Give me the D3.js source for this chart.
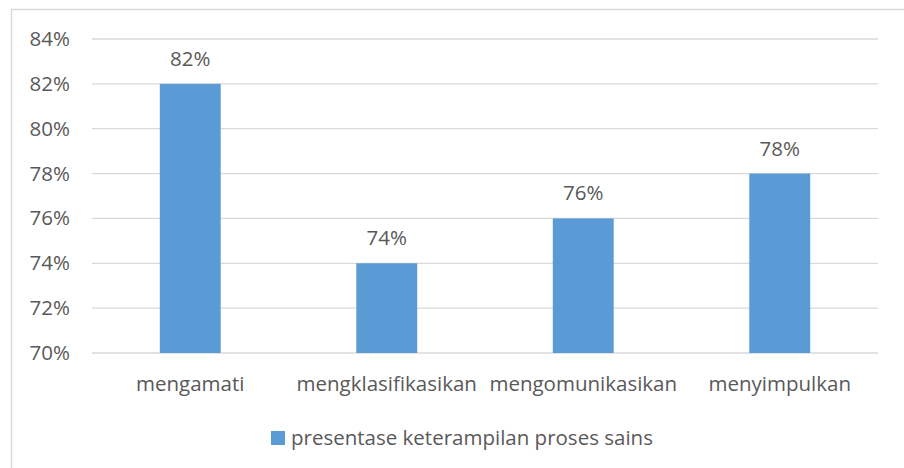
<!DOCTYPE html>
<html>
<head>
<meta charset="utf-8">
<script src="https://cdn.jsdelivr.net/npm/d3@7"></script>
<style>
  body { margin: 0; background: #fff; }
  text { font-family: "Open Sans", sans-serif; fill: #595959; }
</style>
</head>
<body>
<svg></svg>
<script>
//svg size
const width = 904;
const height = 468;

//data
var categories = ['mengamati', 'mengklasifikasikan', 'mengomunikasikan', 'menyimpulkan'];
var values = [82, 74, 76, 78];
var yTicks = [70, 72, 74, 76, 78, 80, 82, 84];
var seriesName = 'presentase keterampilan proses sains';

//colours
var bar_col = '#5b9bd5';
var grid_col = '#d9d9d9';
var fontSize = '20.5px';

var svg = d3.select('svg')
    .attr('width', width)
    .attr('height', height);

//plot area
var plotLeft = 92, plotRight = 878, plotTop = 39, plotBottom = 353;

//chart frame (only left and top edges show in the picture)
svg.append('rect')
   .attr('x', 11.5)
   .attr('y', 9.5)
   .attr('width', 1000)
   .attr('height', 1000)
   .attr('fill', 'none')
   .attr('stroke', grid_col)
   .attr('stroke-width', 1.5);

//scales
var x = d3.scaleBand()
    .domain(categories)
    .range([plotLeft, plotRight])
    .paddingInner(0.69)
    .paddingOuter(0.345);

var y = d3.scaleLinear()
    .domain([70, 84])
    .range([plotBottom, plotTop]);

//grid lines
svg.append('g')
   .selectAll('line')
   .data(yTicks)
   .join('line')
   .attr('x1', plotLeft)
   .attr('x2', plotRight)
   .attr('y1', d => y(d))
   .attr('y2', d => y(d))
   .attr('stroke', grid_col)
   .attr('stroke-width', 1.3);

//y tick labels
svg.append('g')
   .selectAll('text')
   .data(yTicks)
   .join('text')
   .attr('x', 70)
   .attr('y', d => y(d) + 7)
   .attr('text-anchor', 'end')
   .style('font-size', fontSize)
   .text(d => d + '%');

//bars
svg.append('g')
   .selectAll('rect')
   .data(values)
   .join('rect')
   .attr('x', (d, i) => x(categories[i]))
   .attr('y', d => y(d))
   .attr('width', x.bandwidth())
   .attr('height', d => y(70) - y(d))
   .attr('fill', bar_col);

//value labels
svg.append('g')
   .selectAll('text')
   .data(values)
   .join('text')
   .attr('x', (d, i) => x(categories[i]) + x.bandwidth() / 2)
   .attr('y', d => y(d) - 18)
   .attr('text-anchor', 'middle')
   .style('font-size', fontSize)
   .text(d => d + '%');

//category labels
svg.append('g')
   .selectAll('text')
   .data(categories)
   .join('text')
   .attr('x', d => x(d) + x.bandwidth() / 2)
   .attr('y', 391)
   .attr('text-anchor', 'middle')
   .style('font-size', fontSize)
   .text(d => d);

//legend
var legend = svg.append('g');
legend.append('rect')
      .attr('x', 271)
      .attr('y', 431)
      .attr('width', 14)
      .attr('height', 14)
      .attr('fill', bar_col);
legend.append('text')
      .attr('x', 291)
      .attr('y', 445)
      .style('font-size', fontSize)
      .text(seriesName);
</script>
</body>
</html>
